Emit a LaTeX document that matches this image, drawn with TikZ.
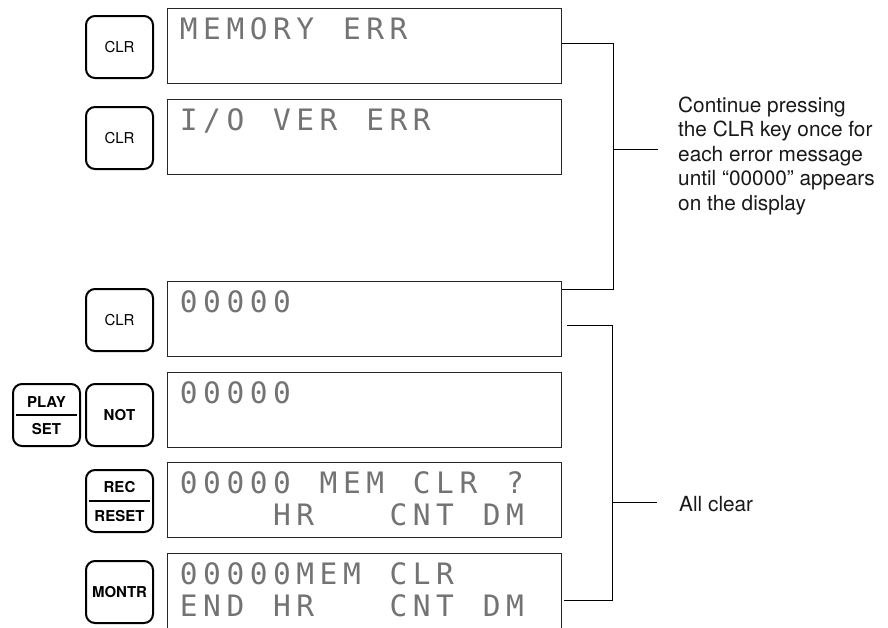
\documentclass[tikz,border=0pt]{standalone}
\usepackage{fontspec}
\setmainfont{TeX Gyre Heros}
\newfontfamily\lcdfont{DejaVu Sans Mono}
\newcommand\lcdcell[1]{\makebox[23.3pt][c]{#1}}
\let\lcdstop\relax
\def\lcdrun#1{\lcdA#1\lcdstop}
\def\lcdA#1{\ifx#1\lcdstop\else\lcdcell{#1}\expandafter\lcdA\fi}
\tikzset{
  disp/.style={draw=black!85, line width=1.2pt, minimum width=394pt, minimum height=75pt, anchor=north west, inner sep=0pt},
  keybox/.style={draw, line width=2pt, rounded corners=9pt, minimum width=67pt, minimum height=62pt, anchor=north west, inner sep=0pt},
  keylbl/.style={font=\fontsize{15}{18}\selectfont},
  keybold/.style={font=\fontsize{15}{18}\selectfont\bfseries, inner sep=0pt},
  lcd/.style={font=\fontsize{29.5}{30}\lcdfont, text=black!55, anchor=base west, inner sep=0pt},
  conn/.style={line width=1pt},
  note/.style={font=\fontsize{20.8}{24.5}\selectfont, inner sep=0pt, text=black!90}
}
\begin{document}
\begin{tikzpicture}[x=1pt,y=-1pt]
\useasboundingbox (0,0) rectangle (888,627);
\clip (0,0) rectangle (888,627);
\fill[white] (0,0) rectangle (888,627);
% displays
\node[disp] (d1) at (167,8) {};
\node[disp] (d2) at (167,99) {};
\node[disp] (d3) at (167,281) {};
\node[disp] (d4) at (167,372) {};
\node[disp] (d5) at (167,462) {};
\node[disp] (d6) at (167,553) {};
% display texts
\node[lcd] (t1) at (177,39) {\lcdrun{MEMORY~ERR}};
\node[lcd] (t2) at (177,130) {\lcdrun{I/O~VER~ERR}};
\node[lcd] (t3) at (177,312) {\lcdrun{00000}};
\node[lcd] (t4) at (177,403) {\lcdrun{00000}};
\node[lcd] (t5a) at (177,493) {\lcdrun{00000~MEM~CLR~?}};
\node[lcd] (t5b) at (177,525) {\lcdrun{~~~~HR~~~CNT~DM}};
\node[lcd] (t6a) at (177,584) {\lcdrun{00000MEM~CLR}};
\node[lcd] (t6b) at (177,616) {\lcdrun{END~HR~~~CNT~DM}};
% keys
\node[keybox, keylbl] (k1) at (85,15) {CLR};
\node[keybox, keylbl] (k2) at (85,106) {CLR};
\node[keybox, keylbl] (k3) at (85,288) {CLR};
\node[keybox] (kplay) at (12,383) {};
\node[keybold] (kplayA) at ([yshift=13pt]kplay.center) {PLAY};
\node[keybold] (kplayB) at ([yshift=-14pt]kplay.center) {SET};
\draw[line width=1.6pt] ([xshift=4pt]kplay.west) -- ([xshift=-4pt]kplay.east);
\node[keybox, keybold] (knot) at (85,383) {NOT};
\node[keybox] (krec) at (85,469) {};
\node[keybold] (krecA) at ([yshift=14pt]krec.center) {REC};
\node[keybold] (krecB) at ([yshift=-15pt]krec.center) {RESET};
\draw[line width=1.6pt] ([xshift=4pt]krec.west) -- ([xshift=-4pt]krec.east);
\node[keybox, keybold, inner sep=0pt] (kmon) at (85,560) {MONTR};
% bracket 1
\coordinate (b1x) at (613,0);
\coordinate (p1) at ([yshift=2.5pt]d1.east);
\coordinate (p2) at ([yshift=-8pt]d3.north east);
\draw[conn] (p1) -- (p1 -| b1x) -- (p2 -| b1x) -- (p2);
\coordinate (n1) at (658,149);
\draw[conn] (n1 -| b1x) -- (n1);
\node[note, anchor=north west, align=left] (cont) at (678,96.5)
  {Continue pressing\\the CLR key once for\\each error message\\until “00000” appears\\on the display};
% bracket 2
\coordinate (b2x) at (612,0);
\coordinate (q1) at ([shift={(5pt,-6.5pt)}]d3.east);
\coordinate (q2) at ([shift={(2pt,-9.5pt)}]d6.east);
\draw[conn] (q1) -- (q1 -| b2x) -- (q2 -| b2x) -- (q2);
\coordinate (n2) at (657,502);
\draw[conn] (n2 -| b2x) -- (n2);
\node[note, anchor=base west] (allc) at (679,511) {All clear};
\end{tikzpicture}
\end{document}
